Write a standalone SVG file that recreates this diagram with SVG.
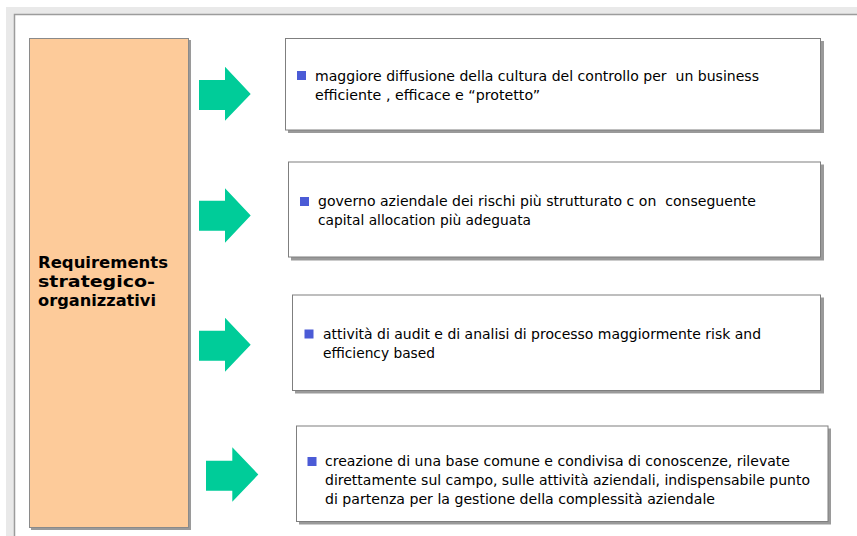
<svg xmlns="http://www.w3.org/2000/svg" width="857" height="536" viewBox="0 0 857 536">
<style>
.box{fill:#ffffff;stroke:#7f7f7f;stroke-width:1}
.shadow{fill:#9a9a9a}
.arrow{fill:#00cc99}
.bullet{fill:#4b5bd6}
.txt{font-family:"DejaVu Sans","Noto Sans",sans-serif;font-size:14px;fill:#000;white-space:pre}
.lbl{font-family:"DejaVu Sans","Liberation Sans",sans-serif;font-size:15.5px;font-weight:bold;fill:#000}
</style>
<rect x="0" y="0" width="857" height="536" fill="#ffffff"/>
<rect x="6" y="7" width="851" height="529" fill="#e9e9e9"/>
<rect x="14" y="14" width="843" height="522" fill="#ffffff"/>
<path d="M14.5,536 V14.5 H857" fill="none" stroke="#9c9c9c" stroke-width="1.5"/>

<g id="requirements">
<rect x="31" y="40" width="160" height="490" class="shadow"/>
<rect x="29.5" y="38.5" width="159" height="489" fill="#fdcb9a" stroke="#8a8a8a" stroke-width="1"/>
<text class="lbl"><tspan x="38" y="268" textLength="130" lengthAdjust="spacingAndGlyphs">Requirements</tspan><tspan x="38" y="287" textLength="117" lengthAdjust="spacingAndGlyphs">strategico-</tspan><tspan x="38" y="306" textLength="118" lengthAdjust="spacingAndGlyphs">organizzativi</tspan></text>
</g>

<g id="connectors">
<polygon class="arrow" points="199,80 225,80 225,66.7 250.7,94 225,120.7 225,110 199,110"/>
<polygon class="arrow" points="199,200.7 225,200.7 225,188.3 250.7,215.5 225,242.7 225,230.7 199,230.7"/>
<polygon class="arrow" points="199,330.7 225,330.7 225,317.7 250.7,344.7 225,371.7 225,360.7 199,360.7"/>
<polygon class="arrow" points="206,460.7 232.3,460.7 232.3,447.3 258.3,474.5 232.3,501.7 232.3,490.7 206,490.7"/>
</g>

<g id="box1">
<rect x="288" y="41" width="536" height="92" class="shadow"/>
<rect x="285.5" y="38.5" width="535" height="91.5" class="box"/>
<rect x="297" y="71" width="9" height="9" class="bullet"/>
<text class="txt"><tspan x="315" y="80.5" textLength="444" lengthAdjust="spacingAndGlyphs">maggiore diffusione della cultura del controllo per  un business</tspan><tspan x="315" y="99.5" textLength="225" lengthAdjust="spacingAndGlyphs">efficiente , efficace e “protetto”</tspan></text>
</g>

<g id="box2">
<rect x="291" y="164.5" width="533" height="96" class="shadow"/>
<rect x="288.5" y="162" width="532" height="95" class="box"/>
<rect x="300" y="197" width="9" height="9" class="bullet"/>
<text class="txt"><tspan x="318" y="206" textLength="438" lengthAdjust="spacingAndGlyphs">governo aziendale dei rischi più strutturato c on  conseguente</tspan><tspan x="318" y="225" textLength="213" lengthAdjust="spacingAndGlyphs">capital allocation più adeguata</tspan></text>
</g>

<g id="box3">
<rect x="295" y="297.5" width="529" height="96" class="shadow"/>
<rect x="292.5" y="295" width="528" height="95.5" class="box"/>
<rect x="304.5" y="329.5" width="9" height="9" class="bullet"/>
<text class="txt"><tspan x="323" y="339" textLength="438" lengthAdjust="spacingAndGlyphs">attività di audit e di analisi di processo maggiormente risk and</tspan><tspan x="323" y="358" textLength="112" lengthAdjust="spacingAndGlyphs">efficiency based</tspan></text>
</g>

<g id="box4">
<rect x="299" y="428.5" width="532" height="96" class="shadow"/>
<rect x="296.5" y="426" width="531.5" height="95.5" class="box"/>
<rect x="307.5" y="457" width="9" height="9" class="bullet"/>
<text class="txt"><tspan x="325" y="466" textLength="465" lengthAdjust="spacingAndGlyphs">creazione di una base comune e condivisa di conoscenze, rilevate</tspan><tspan x="325" y="485" textLength="485" lengthAdjust="spacingAndGlyphs">direttamente sul campo, sulle attività aziendali, indispensabile punto</tspan><tspan x="325" y="504" textLength="390" lengthAdjust="spacingAndGlyphs">di partenza per la gestione della complessità aziendale</tspan></text>
</g>
</svg>
